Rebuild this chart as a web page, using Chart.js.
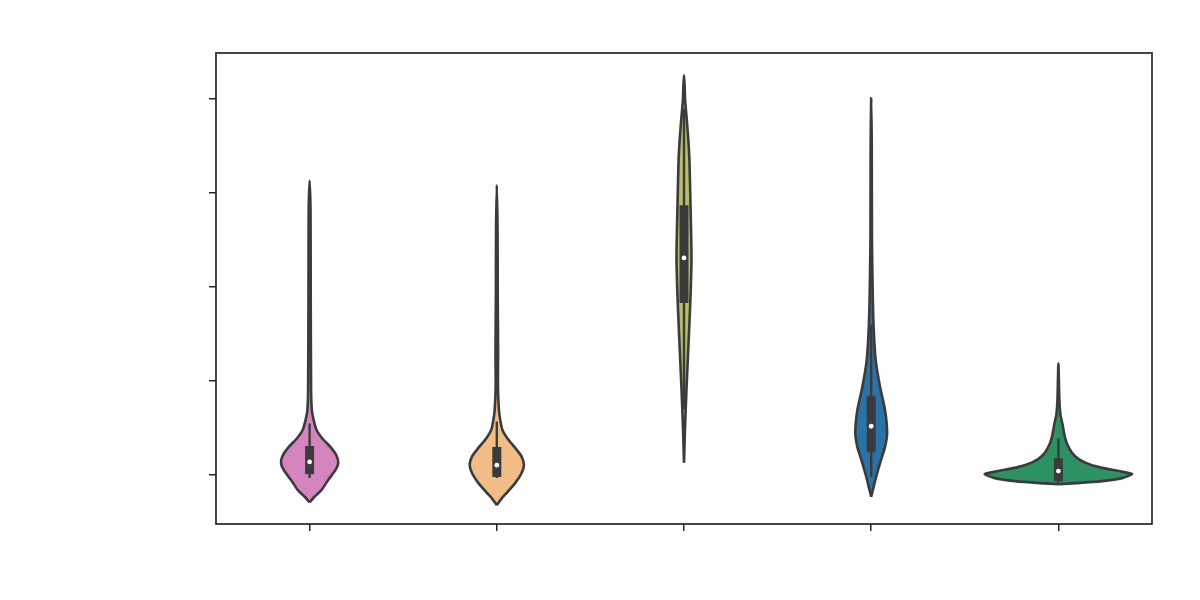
<!DOCTYPE html>
<html>
<head>
<meta charset="utf-8">
<script src="https://cdn.jsdelivr.net/npm/chart.js@4"></script>
<style>
  body { margin: 0; background: #fff; }
  #wrap { width: 1200px; height: 600px; }
</style>
</head>
<body>
<div id="wrap"><canvas id="violins"></canvas></div>
<script>
// groups, left to right
var groups = ['g1', 'g2', 'g3', 'g4', 'g5'];
var fillColors = ['#d684be', '#f1bd86', '#b6bc6a', '#2a72a8', '#2e9163'];

// density outline of each violin: y levels and half widths (in category units)
var levels = [
    [-0.29, -0.23, -0.16, -0.05, 0.05, 0.13, 0.21, 0.30, 0.39, 0.48, 0.59, 0.69, 0.90, 1.9, 2.8, 3.13],
    [-0.32, -0.25, -0.18, -0.08, 0.02, 0.11, 0.20, 0.30, 0.39, 0.48, 0.59, 0.70, 0.95, 1.3, 1.9, 2.6, 3.085],
    [0.13, 0.48, 0.90, 1.44, 1.86, 2.31, 2.93, 3.35, 3.60, 3.80, 3.99, 4.15, 4.255],
    [-0.23, -0.15, -0.02, 0.16, 0.30, 0.45, 0.69, 0.94, 1.22, 1.57, 1.94, 2.5, 3.5, 4.01],
    [-0.096, -0.085, -0.064, -0.032, 0.011, 0.043, 0.085, 0.138, 0.20, 0.287, 0.394, 0.56, 0.64, 0.80, 1.19]
];
var halfWidths = [
    [0, 0.026, 0.063, 0.100, 0.137, 0.153, 0.143, 0.111, 0.068, 0.037, 0.021, 0.012, 0.008, 0.006, 0.005, 0],
    [0, 0.025, 0.057, 0.100, 0.132, 0.145, 0.132, 0.094, 0.057, 0.030, 0.018, 0.011, 0.006, 0.007, 0.005, 0.004, 0],
    [0, 0.005, 0.013, 0.025, 0.034, 0.040, 0.034, 0.029, 0.022, 0.014, 0.006, 0.003, 0],
    [0, 0.010, 0.026, 0.052, 0.074, 0.085, 0.074, 0.047, 0.024, 0.013, 0.008, 0.004, 0.003, 0],
    [0, 0.100, 0.233, 0.340, 0.394, 0.324, 0.217, 0.137, 0.089, 0.057, 0.036, 0.020, 0.011, 0.005, 0]
];

// inner box plot
var q1 = [0.01, -0.02, 1.83, 0.245, -0.064];
var q3 = [0.31, 0.30, 2.87, 0.84, 0.18];
var medians = [0.14, 0.106, 2.31, 0.52, 0.043];
var whiskerLo = [-0.03, -0.03, 0.7, -0.02, -0.08];
var whiskerHi = [0.55, 0.57, 3.9, 1.6, 0.39];

var yTicks = [0, 1, 2, 3, 4];
var xTicks = groups.map(function(g, i) { return i; });

var ink = '#3b3b3b';
var datasets = [];

groups.forEach(function(g, i) {
    var ys = levels[i], ws = halfWidths[i];
    var pts = [];
    // right side going up, then left side coming down
    for (var k = 0; k < ys.length; k++) pts.push({x: i + ws[k], y: ys[k]});
    for (var k = ys.length - 2; k >= 0; k--) pts.push({x: i - ws[k], y: ys[k]});

    datasets.push({
        data: pts,
        showLine: true,
        fill: 'shape',
        backgroundColor: fillColors[i],
        borderColor: ink,
        borderWidth: 2.6,
        borderJoinStyle: 'round',
        tension: 0.2,
        pointRadius: 0,
        order: 3
    });
    datasets.push({
        data: [{x: i, y: whiskerLo[i]}, {x: i, y: whiskerHi[i]}],
        showLine: true,
        borderColor: ink,
        borderWidth: 2.4,
        borderCapStyle: 'butt',
        pointRadius: 0,
        order: 2
    });
    datasets.push({
        data: [{x: i, y: q1[i]}, {x: i, y: q3[i]}],
        showLine: true,
        borderColor: ink,
        borderWidth: 9,
        borderCapStyle: 'butt',
        pointRadius: 0,
        order: 1
    });
    datasets.push({
        data: [{x: i, y: medians[i]}],
        showLine: false,
        pointRadius: 2.4,
        pointBackgroundColor: '#ffffff',
        pointBorderWidth: 0,
        order: 0
    });
});

// box frame around the plot area
var frame = {
    id: 'frame',
    afterDraw: function(chart) {
        var a = chart.chartArea, ctx = chart.ctx;
        ctx.save();
        ctx.strokeStyle = '#262626';
        ctx.lineWidth = 1.7;
        ctx.strokeRect(a.left, a.top, a.right - a.left, a.bottom - a.top);
        ctx.restore();
    }
};

var tickGrid = {
    drawOnChartArea: false,
    drawTicks: true,
    tickLength: 7,
    color: '#262626',
    lineWidth: 1.5
};

new Chart(document.getElementById('violins'), {
    type: 'scatter',
    data: { datasets: datasets },
    plugins: [frame],
    options: {
        responsive: true,
        maintainAspectRatio: false,
        animation: false,
        layout: { padding: { top: 53, right: 48, left: 0, bottom: 0 } },
        plugins: {
            legend: { display: false },
            tooltip: { enabled: false }
        },
        scales: {
            x: {
                type: 'linear',
                min: -0.5,
                max: 4.5,
                border: { display: false },
                grid: tickGrid,
                ticks: { display: false },
                afterBuildTicks: function(s) { s.ticks = xTicks.map(function(v) { return {value: v}; }); },
                afterFit: function(s) { s.height = 76; }
            },
            y: {
                type: 'linear',
                min: -0.52,
                max: 4.49,
                border: { display: false },
                grid: tickGrid,
                ticks: { display: false },
                afterBuildTicks: function(s) { s.ticks = yTicks.map(function(v) { return {value: v}; }); },
                afterFit: function(s) { s.width = 216; }
            }
        }
    }
});
</script>
</body>
</html>
